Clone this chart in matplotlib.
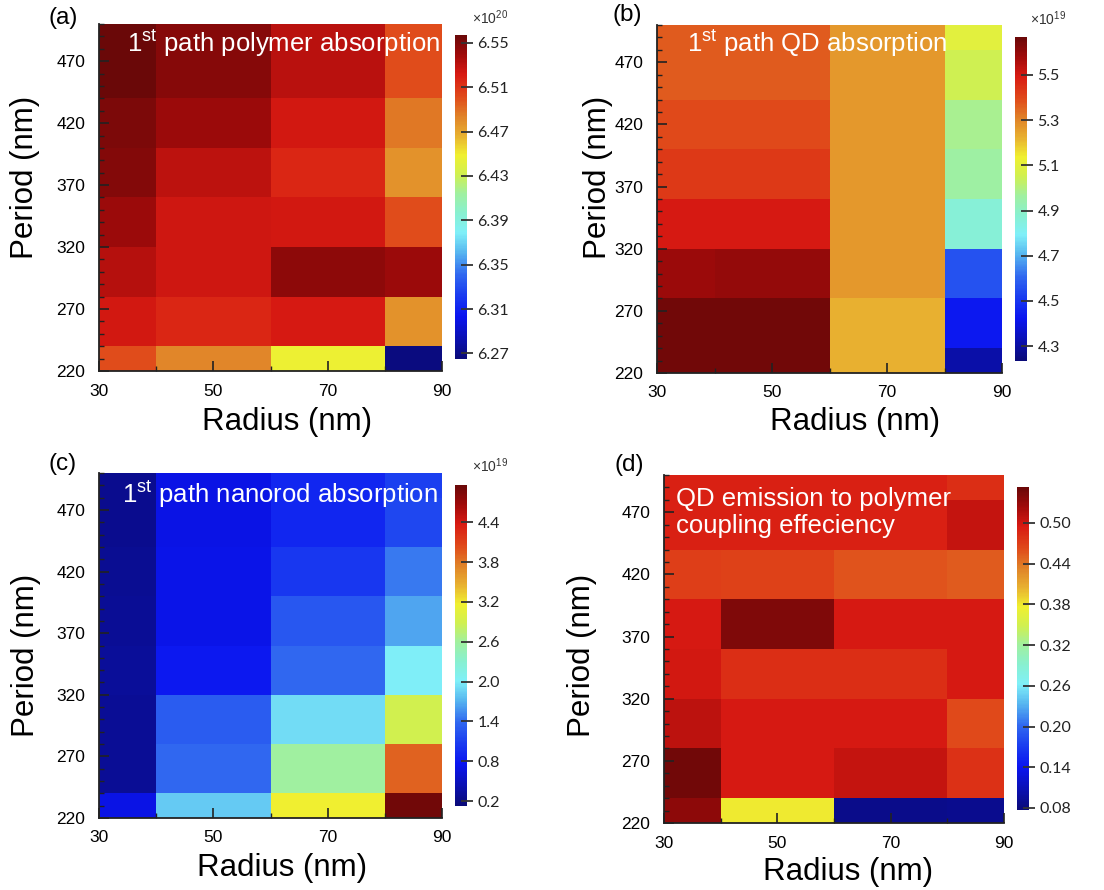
import numpy as np
import matplotlib
matplotlib.use("Agg")
import matplotlib.pyplot as plt
from matplotlib.colors import LinearSegmentedColormap
from matplotlib.ticker import FormatStrFormatter

plt.rcParams['font.family'] = ['Liberation Sans', 'DejaVu Sans']
plt.rcParams['mathtext.fontset'] = 'custom'
plt.rcParams['mathtext.rm'] = 'Liberation Sans'
plt.rcParams['mathtext.it'] = 'Liberation Sans:italic'
plt.rcParams['mathtext.bf'] = 'Liberation Sans:bold'

# ---------------- data ----------------
radius = [30, 50, 70, 90]                                   # nm (columns)
period = [220, 260, 300, 340, 380, 420, 460, 500]           # nm (rows)

# (a) 1st path polymer absorption, x1e20
polymer_abs = [
    [6.500, 6.482, 6.447, 6.268],
    [6.523, 6.516, 6.522, 6.478],
    [6.533, 6.525, 6.545, 6.540],
    [6.540, 6.525, 6.523, 6.500],
    [6.548, 6.530, 6.516, 6.478],
    [6.551, 6.541, 6.523, 6.487],
    [6.556, 6.547, 6.531, 6.500],
    [6.556, 6.547, 6.531, 6.500],
]
# (b) 1st path QD absorption, x1e19
qd_abs = [
    [5.654, 5.654, 5.223, 4.310],
    [5.654, 5.654, 5.223, 4.435],
    [5.585, 5.600, 5.267, 4.564],
    [5.496, 5.496, 5.267, 4.865],
    [5.430, 5.430, 5.267, 4.958],
    [5.395, 5.395, 5.267, 4.980],
    [5.367, 5.367, 5.267, 5.050],
    [5.367, 5.367, 5.267, 5.100],
]
# (c) 1st path nanorod absorption, x1e19
nanorod_abs = [
    [0.70, 1.81, 3.17, 4.91],
    [0.28, 1.38, 2.59, 3.92],
    [0.28, 1.30, 1.91, 2.90],
    [0.30, 0.80, 1.38, 2.01],
    [0.28, 0.72, 1.26, 1.64],
    [0.26, 0.72, 1.04, 1.45],
    [0.24, 0.70, 0.90, 1.16],
    [0.24, 0.70, 0.90, 1.09],
]
# (d) QD emission to polymer coupling efficiency
coupling_eff = [
    [0.534, 0.379, 0.087, 0.090],
    [0.548, 0.497, 0.505, 0.479],
    [0.510, 0.497, 0.497, 0.463],
    [0.498, 0.482, 0.482, 0.497],
    [0.496, 0.541, 0.496, 0.497],
    [0.470, 0.468, 0.458, 0.453],
    [0.491, 0.491, 0.491, 0.505],
    [0.491, 0.491, 0.491, 0.482],
]

x_ticks = [30, 50, 70, 90]
y_ticks = [220, 270, 320, 370, 420, 470]
cb_ticks_a = [6.27, 6.31, 6.35, 6.39, 6.43, 6.47, 6.51, 6.55]
cb_ticks_b = [4.3, 4.5, 4.7, 4.9, 5.1, 5.3, 5.5]
cb_ticks_c = [0.2, 0.8, 1.4, 2.0, 2.6, 3.2, 3.8, 4.4]
cb_ticks_d = [0.08, 0.14, 0.20, 0.26, 0.32, 0.38, 0.44, 0.50]

titles = ['1$^{\\mathrm{st}}$ path polymer absorption',
          '1$^{\\mathrm{st}}$ path QD absorption',
          '1$^{\\mathrm{st}}$ path nanorod absorption',
          'QD emission to polymer\ncoupling effeciency']
panel_labels = ['(a)', '(b)', '(c)', '(d)']
scale_labels = ['×10$^{20}$', '×10$^{19}$', '×10$^{19}$', None]

# ---------------- style ----------------
cmap = LinearSegmentedColormap.from_list('jetlike', [
    (0.00, '#0A0A78'), (0.06, '#0A10B0'), (0.13, '#0A14F0'), (0.19, '#1838F0'),
    (0.26, '#3068F0'), (0.33, '#58B8F0'), (0.39, '#80F0F8'), (0.45, '#88F0D0'),
    (0.51, '#A0F0A0'), (0.57, '#D0F050'), (0.63, '#F0F030'), (0.69, '#E8B030'),
    (0.75, '#E08228'), (0.81, '#E04A1A'), (0.88, '#D81A12'), (0.94, '#A00A0A'),
    (1.00, '#6A0808')])

W, H = 1104, 890
fig = plt.figure(figsize=(W / 100, H / 100), dpi=100)


def fr(l, t, r, b):
    return [l / W, 1 - b / H, (r - l) / W, (b - t) / H]


panels = [
    dict(data=polymer_abs, vmin=6.265, vmax=6.557, ticks=cb_ticks_a, fmt='%.2f',
         ax=(99, 24, 442, 371), cb=(455, 35, 467, 359), lab=(49, 18), scl=(472, 18),
         title_pos=(0.994, 0.919), title_ha='right',
         xl=(0.548, -0.147), yl=(-0.215, 0.559)),
    dict(data=qd_abs, vmin=4.234, vmax=5.668, ticks=cb_ticks_b, fmt='%.1f',
         ax=(657, 25, 1002, 373), cb=(1015, 37, 1027, 361), lab=(612, 15), scl=(1030, 19),
         title_pos=(0.087, 0.922), title_ha='left',
         xl=(0.575, -0.141), yl=(-0.17, 0.563)),
    dict(data=nanorod_abs, vmin=0.125, vmax=4.96, ticks=cb_ticks_c, fmt='%.1f',
         ax=(99, 473, 442, 818), cb=(455, 485, 467, 806), lab=(49, 464), scl=(472, 466),
         title_pos=(0.987, 0.913), title_ha='right',
         xl=(0.534, -0.145), yl=(-0.212, 0.47)),
    dict(data=coupling_eff, vmin=0.077, vmax=0.553, ticks=cb_ticks_d, fmt='%.2f',
         ax=(664, 475, 1004, 823), cb=(1017, 487, 1029, 810), lab=(614, 465), scl=None,
         title_pos=(0.035, 0.833), title_ha='left',
         xl=(0.54, -0.141), yl=(-0.24, 0.483)),
]

for i, p in enumerate(panels):
    ax = fig.add_axes(fr(*p['ax']))
    mesh = ax.pcolormesh(radius, period, np.array(p['data']), shading='nearest',
                         cmap=cmap, vmin=p['vmin'], vmax=p['vmax'],
                         edgecolors='none', antialiased=False)
    ax.set_xlim(30, 90)
    ax.set_ylim(220, 500)
    ax.set_xticks(x_ticks)
    ax.set_xticks([40, 60, 80], minor=True)
    ax.set_yticks(y_ticks)
    ax.set_yticks(np.arange(220, 501, 10), minor=True)
    ax.tick_params(which='both', direction='in', color='#222222', top=False, right=False)
    ax.tick_params(which='major', length=7, width=1.2, labelsize=12.5)
    ax.tick_params(which='minor', length=3.5, width=1.0)
    ax.tick_params(axis='x', which='major', pad=9)
    ax.tick_params(axis='y', which='major', pad=10)
    for s in ['top', 'right']:
        ax.spines[s].set_visible(False)
    for s in ['left', 'bottom']:
        ax.spines[s].set_linewidth(1.3)
        ax.spines[s].set_color('#222222')

    ax.set_xlabel('Radius (nm)', fontsize=22.5)
    ax.set_ylabel('Period (nm)', fontsize=22.5)
    ax.xaxis.set_label_coords(*p['xl'])
    ax.yaxis.set_label_coords(*p['yl'])
    ax.xaxis.label.set_va('center')
    ax.yaxis.label.set_va('center')

    ax.text(p['title_pos'][0], p['title_pos'][1], titles[i], transform=ax.transAxes,
            ha=p['title_ha'], va='baseline', color='white', fontsize=18.5,
            linespacing=1.15)

    cax = fig.add_axes(fr(*p['cb']))
    cb = fig.colorbar(mesh, cax=cax, ticks=p['ticks'])
    cb.outline.set_visible(False)
    cax.yaxis.set_major_formatter(FormatStrFormatter(p['fmt']))
    cax.tick_params(direction='inout', length=9, width=1.3, color='#333333',
                    labelsize=11.5, pad=3)
    for t in cax.get_yticklabels():
        t.set_fontfamily(['Lato', 'DejaVu Sans'])
        t.set_color('#222222')

    fig.text(p['lab'][0] / W, 1 - p['lab'][1] / H, panel_labels[i], fontsize=17.5,
             ha='left', va='center')
    if p['scl'] is not None:
        fig.text(p['scl'][0] / W, 1 - p['scl'][1] / H, scale_labels[i], fontsize=10,
                 ha='left', va='center', color='#333333')

fig.savefig('out.png', dpi=100)
